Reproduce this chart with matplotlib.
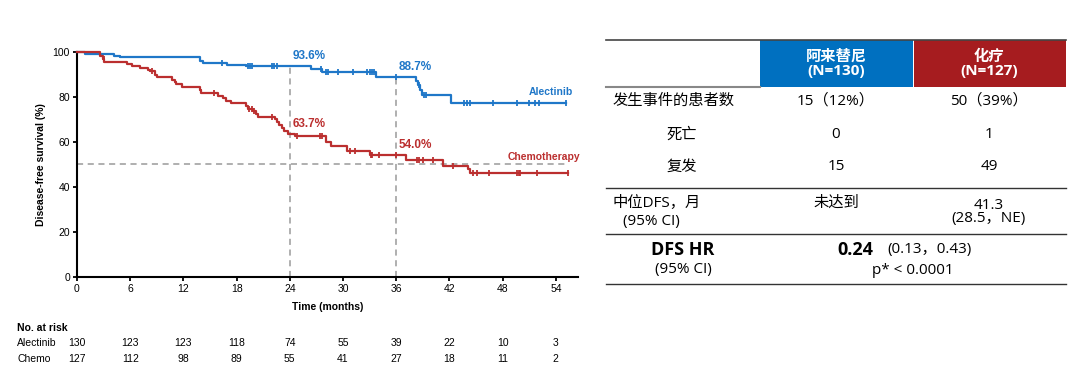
import numpy as np
import matplotlib
matplotlib.use("Agg")
import matplotlib.pyplot as plt
from matplotlib.transforms import blended_transform_factory
from matplotlib.patches import Rectangle

# KM 曲线数据
alec_t = [0, 0.9, 4.2, 4.8, 13.9, 14.2, 16.9, 19.1, 26.4, 27.6, 33.7, 38.2, 38.5, 38.7, 38.9, 42.2]
alec_s = [100, 99.2, 98.4, 97.6, 96.2, 95.3, 94.4, 93.6, 92.3, 91.2, 88.7, 87.3, 85.5, 83.0, 80.9, 77.4]
alec_end = 55.2
alec_cens = [16.3, 19.3, 19.5, 19.7, 22.0, 22.2, 22.5, 27.5, 28.1, 28.3, 29.4, 31.1, 32.7, 33.0,
             33.3, 33.5, 36.0, 38.6, 39.1, 39.4, 43.7, 44.0, 44.3, 46.9, 49.6, 51.0, 51.6, 52.1, 55.2]

chemo_t = [0, 2.6, 2.9, 3.1, 5.6, 6.2, 7.1, 8.0, 8.2, 8.8, 9.0, 10.7, 11.0, 11.2, 11.8, 13.9, 14.0,
           15.9, 16.5, 16.8, 17.4, 19.1, 19.3, 19.9, 20.2, 20.4, 22.3, 22.5, 22.8, 23.1, 23.4, 23.8,
           24.6, 28.1, 28.7, 30.4, 33.0, 37.1, 41.3, 44.1, 44.3]
chemo_s = [100, 98.4, 97.0, 95.7, 94.8, 93.8, 93.0, 92.2, 91.4, 89.9, 88.7, 87.6, 86.6, 85.8, 84.3,
           83.3, 81.6, 80.4, 79.4, 78.4, 77.2, 76.0, 74.6, 73.6, 72.6, 71.0, 70.1, 68.8, 67.6, 66.2,
           64.8, 63.7, 62.8, 59.8, 58.2, 55.8, 54.0, 52.2, 49.3, 47.9, 46.4]
chemo_end = 55.4
chemo_cens = [3.0, 8.5, 15.5, 19.4, 19.7, 20.0, 22.0, 24.8, 27.4, 27.6, 30.8, 31.4, 33.1, 33.3, 34.1,
              36.0, 38.3, 38.6, 39.0, 40.1, 42.4, 44.7, 45.1, 46.5, 49.6, 49.8, 50.0, 51.9, 55.4]

# 标注
lm_times = [24, 36]
alec_lm = [93.6, 88.7]
chemo_lm = [63.7, 54.0]

# 风险人数
risk_times = [0, 6, 12, 18, 24, 30, 36, 42, 48, 54]
risk_alec = [130, 123, 123, 118, 74, 55, 39, 22, 10, 3]
risk_chemo = [127, 112, 98, 89, 55, 41, 27, 18, 11, 2]

# 右侧表格
col_heads = ["阿来替尼\n(N=130)", "化疗\n(N=127)"]
row_labels = ["发生事件的患者数", "死亡", "复发"]
alec_vals = ["15（12%）", "0", "15"]
chemo_vals = ["50（39%）", "1", "49"]
median_alec = "未达到"
median_chemo = "41.3\n(28.5，NE)"
hr_val = "0.24"
hr_ci = "(0.13，0.43)"
p_text = "p* < 0.0001"

BLUE = "#1f77c8"
RED = "#bb2f2f"

plt.rcParams['font.family'] = ['Liberation Sans', 'DejaVu Sans']

fig = plt.figure(figsize=(10.8, 3.83), dpi=100)
W, H = 1080, 383
ax = fig.add_axes([77 / W, 1 - 277 / H, (578 - 77) / W, (277 - 52) / H])


def km_line(t, s, end, cens, color):
    xs = list(t) + [end]
    ys = list(s) + [s[-1]]
    ax.step(xs, ys, where="post", color=color, lw=1.6, clip_on=False, zorder=3)
    idx = np.searchsorted(t, cens, side="right") - 1
    cy = [s[i] for i in idx]
    ax.plot(cens, cy, ls="none", marker="|", ms=5, mew=1.3, color=color, clip_on=False, zorder=3)


dash = dict(color="#9a9a9a", lw=1.1, ls=(0, (4, 3)), zorder=1)
ax.plot([0, 55.3], [50, 50], **dash)
for t, v in zip(lm_times, alec_lm):
    ax.plot([t, t], [0, v], **dash)

km_line(alec_t, alec_s, alec_end, alec_cens, BLUE)
km_line(chemo_t, chemo_s, chemo_end, chemo_cens, RED)

for t, v in zip(lm_times, alec_lm):
    ax.text(t + 0.3, v + 1.8, f"{v:.1f}%", color=BLUE, fontsize=8.5, fontweight="bold", va="bottom")
for t, v in zip(lm_times, chemo_lm):
    ax.text(t + 0.3, v + 1.8, f"{v:.1f}%", color=RED, fontsize=8.5, fontweight="bold", va="bottom")
ax.text(55.9, 82, "Alectinib", color=BLUE, fontsize=7.5, fontweight="bold", ha="right", va="center")
ax.text(56.7, 53.3, "Chemotherapy", color=RED, fontsize=7.5, fontweight="bold", ha="right", va="center")

ax.set_xlim(0, 56.5)
ax.set_ylim(0, 100)
ax.set_xticks(risk_times)
ax.set_yticks([0, 20, 40, 60, 80, 100])
ax.tick_params(direction="out", length=3, width=1.3, labelsize=7.5, pad=2, colors="black")
for sp in ["top", "right"]:
    ax.spines[sp].set_visible(False)
for sp in ["left", "bottom"]:
    ax.spines[sp].set_linewidth(1.5)
ax.set_xlabel("Time (months)", fontsize=7.5, fontweight="bold", labelpad=6)
ax.set_ylabel("Disease-free survival (%)", fontsize=7.5, fontweight="bold", labelpad=5)

# 风险人数表
tr = blended_transform_factory(ax.transData, fig.transFigure)
fig.text(17 / W, 1 - 328 / H, "No. at risk", fontsize=7.5, fontweight="bold", va="center")
fig.text(17 / W, 1 - 343.5 / H, "Alectinib", fontsize=7.5, va="center")
fig.text(17 / W, 1 - 359 / H, "Chemo", fontsize=7.5, va="center")
for t, a, c in zip(risk_times, risk_alec, risk_chemo):
    ax.text(t, 1 - 343.5 / H, str(a), fontsize=7.5, ha="center", va="center", transform=tr)
    ax.text(t, 1 - 359 / H, str(c), fontsize=7.5, ha="center", va="center", transform=tr)

# 右侧表格（像素坐标）
tab = fig.add_axes([0, 0, 1, 1], zorder=-1)
tab.set_xlim(0, W)
tab.set_ylim(H, 0)
tab.axis("off")
cjk = ['Open Sans', 'Noto Sans CJK SC', 'DejaVu Sans']
fs = 11

x0, xb, xr, x1 = 606, 760, 913, 1066
tab.add_patch(Rectangle((xb, 40), xr - xb, 46.5, color="#0070c0", lw=0))
tab.add_patch(Rectangle((xr + 1, 40), x1 - xr - 1, 46.5, color="#a61c1f", lw=0))
tab.plot([x0, x1], [40, 40], color="#444444", lw=1.2)
tab.plot([x0, xb], [86.5, 86.5], color="#888888", lw=1.5)
tab.plot([x0, x1], [187.5, 187.5], color="#333333", lw=1)
tab.plot([x0, x1], [234, 234], color="#333333", lw=1)
tab.plot([x0, x1], [284, 284], color="#333333", lw=1)

cx_a, cx_c = 836, 989
for cx, h in zip([cx_a, cx_c], col_heads):
    tab.text(cx, 63.5, h, family=cjk, fontsize=fs, fontweight="bold", color="white",
             ha="center", va="center", linespacing=1.0)

row_y = [101.5, 135, 167]
row_x = [613, 682, 682]
row_ha = ["left", "center", "center"]
for y, lab, x, ha, a, c in zip(row_y, row_labels, row_x, row_ha, alec_vals, chemo_vals):
    tab.text(x, y, lab, family=cjk, fontsize=fs, ha=ha, va="center")
    tab.text(cx_a, y, a, family=cjk, fontsize=fs, ha="center", va="center")
    tab.text(cx_c, y, c, family=cjk, fontsize=fs, ha="center", va="center")

tab.text(613, 203, "中位DFS，月", family=cjk, fontsize=fs, ha="left", va="center")
tab.text(623, 221.5, "(95% CI)", family=cjk, fontsize=fs, ha="left", va="center")
tab.text(cx_a, 203, median_alec, family=cjk, fontsize=fs, ha="center", va="center")
tab.text(cx_c, 212, median_chemo, family=cjk, fontsize=fs, ha="center", va="center", linespacing=0.9)

tab.text(683, 250, "DFS HR", family=cjk, fontsize=13, fontweight="bold", ha="center", va="center")
tab.text(683, 270, "(95% CI)", family=cjk, fontsize=fs, ha="center", va="center")
tab.text(837, 250, hr_val, family=cjk, fontsize=13, fontweight="bold", ha="left", va="center")
tab.text(887, 250, hr_ci, family=cjk, fontsize=fs, ha="left", va="center")
tab.text(913, 270, p_text, family=cjk, fontsize=fs, ha="center", va="center")

fig.savefig("out.png", dpi=100)
